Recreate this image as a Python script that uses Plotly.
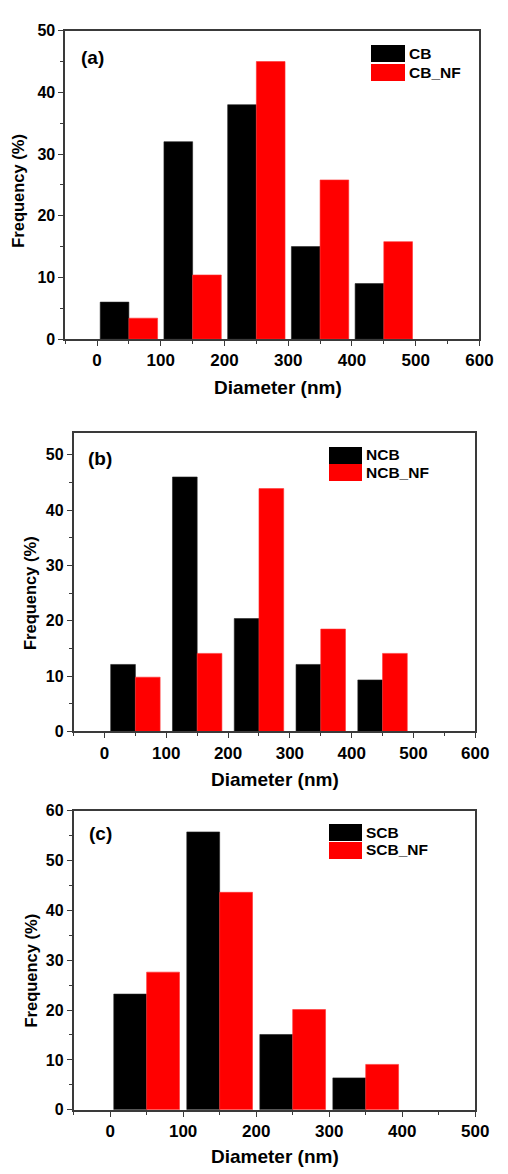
import plotly.graph_objects as go

# ---------------- data ----------------
bin_centers_ab = [50, 150, 250, 350, 450]
bin_centers_c = [50, 150, 250, 350]

cb = [6.0, 32.0, 38.0, 15.0, 9.0]
cb_nf = [3.4, 10.4, 45.0, 25.8, 15.8]

ncb = [12.1, 46.0, 20.4, 12.1, 9.3]
ncb_nf = [9.8, 14.1, 43.9, 18.5, 14.1]

scb = [23.2, 55.7, 15.1, 6.4]
scb_nf = [27.6, 43.6, 20.1, 9.1]

panel_labels = ["(a)", "(b)", "(c)"]
series_names = [("CB", "CB_NF"), ("NCB", "NCB_NF"), ("SCB", "SCB_NF")]
x_title = "Diameter (nm)"
y_title = "Frequency (%)"

# ---------------- style ----------------
W, H = 508, 1174
FONT = "Arial, Liberation Sans, sans-serif"
BLACK = "#000000"
RED = "#FF0000"
AXIS_COLOR = "#3a3a3a"


def px_x(v):
    return v / W


def px_y(v):
    return 1 - v / H


fig = go.Figure()

panels = [
    dict(x=bin_centers_ab, a=cb, b=cb_nf, w=45, xr=[-50, 600], yr=[0, 50],
         dom_x=[67, 493], dom_y=[23, 336]),
    dict(x=bin_centers_ab, a=ncb, b=ncb_nf, w=40, xr=[-50, 600], yr=[0, 54],
         dom_x=[75.7, 488.7], dom_y=[431, 734]),
    dict(x=bin_centers_c, a=scb, b=scb_nf, w=45, xr=[-50, 500], yr=[0, 60],
         dom_x=[75.7, 488.7], dom_y=[814.3, 1118]),
]

# legend swatch (left, top) of first entry, swatch size, row step
legend_pos = [(382, 38, 34, 17, 19), (338, 445, 33, 17, 18), (338, 828, 33, 16.5, 18)]
label_pos = [(95.5, 50), (102.5, 457), (103, 838)]
ytitle_pos = [(19, 185), (31.5, 594), (31.5, 977)]
xtitle_pos = [(286, 385), (282.5, 783), (282.5, 1165)]

annotations = []
for i, p in enumerate(panels):
    n = "" if i == 0 else str(i + 1)
    xa, ya = "x" + n, "y" + n
    na, nb = series_names[i]
    fig.add_trace(go.Bar(
        x=p["x"], y=p["a"], name=na, xaxis=xa, yaxis=ya, showlegend=False,
        width=p["w"], offset=-p["w"],
        marker=dict(color=BLACK, line=dict(color="#222222", width=0.6)),
    ))
    fig.add_trace(go.Bar(
        x=p["x"], y=p["b"], name=nb, xaxis=xa, yaxis=ya, showlegend=False,
        width=p["w"], offset=0,
        marker=dict(color=RED, line=dict(color="#ff3030", width=0.6)),
    ))

    axis_common = dict(
        showline=True, linecolor=AXIS_COLOR, linewidth=1.5, mirror=True,
        showgrid=False, zeroline=False,
        ticks="outside", ticklen=5, tickwidth=1.3, tickcolor=AXIS_COLOR,
        fixedrange=True,
    )
    fig.update_layout(**{
        "xaxis" + n: dict(
            axis_common, domain=[px_x(p["dom_x"][0]), px_x(p["dom_x"][1])],
            range=p["xr"], tick0=0, dtick=100, anchor=ya,
            tickfont=dict(family=FONT, size=17, color="black", weight="bold"),
            minor=dict(ticks="outside", ticklen=3, tickwidth=1.2,
                       tickcolor=AXIS_COLOR, dtick=50, tick0=0),
        ),
        "yaxis" + n: dict(
            axis_common, domain=[px_y(p["dom_y"][1]), px_y(p["dom_y"][0])],
            range=p["yr"], tick0=0, dtick=10, anchor=xa,
            tickfont=dict(family=FONT, size=16, color="black", weight="bold"),
            minor=dict(ticks="outside", ticklen=3, tickwidth=1.2,
                       tickcolor=AXIS_COLOR, dtick=5, tick0=0),
        ),
    })

    # legend (colour swatches + real text labels)
    lx, ly, sw, sh, step = legend_pos[i]
    for k, (name, col) in enumerate([(na, BLACK), (nb, RED)]):
        top = ly + k * step
        annotations.append(dict(
            text=" ", xref="paper", yref="paper",
            x=px_x(lx), y=px_y(top), xanchor="left", yanchor="top",
            width=sw, height=sh, bgcolor=col, borderpad=0, borderwidth=0,
            showarrow=False, font=dict(size=8),
        ))
        annotations.append(dict(
            text=name, xref="paper", yref="paper",
            x=px_x(lx + sw + 3), y=px_y(top + sh / 2),
            xanchor="left", yanchor="middle", showarrow=False,
            font=dict(family=FONT, size=15.5, color="black", weight="bold"),
        ))

    annotations.append(dict(
        text=panel_labels[i], xref="paper", yref="paper",
        x=px_x(label_pos[i][0]), y=px_y(label_pos[i][1]),
        xanchor="center", yanchor="middle", showarrow=False,
        font=dict(family=FONT, size=19, color="black", weight="bold"),
    ))
    annotations.append(dict(
        text=y_title, xref="paper", yref="paper", textangle=-90,
        x=px_x(ytitle_pos[i][0]), y=px_y(ytitle_pos[i][1]),
        xanchor="center", yanchor="middle", showarrow=False,
        font=dict(family=FONT, size=16.5, color="black", weight="bold"),
    ))
    annotations.append(dict(
        text=x_title, xref="paper", yref="paper",
        x=px_x(xtitle_pos[i][0]), y=px_y(xtitle_pos[i][1]),
        xanchor="center", yanchor="middle", showarrow=False,
        font=dict(family=FONT, size=19, color="black", weight="bold"),
    ))

fig.update_layout(
    width=W, height=H, autosize=False,
    margin=dict(l=0, r=0, t=0, b=0),
    paper_bgcolor="white", plot_bgcolor="white",
    barmode="overlay", showlegend=False,
    annotations=annotations,
    font=dict(family=FONT, color="black"),
)

fig.write_html(
    "out.html",
    config={"displayModeBar": False},
    post_script="document.body.style.margin='0';document.documentElement.style.overflow='hidden';",
)
